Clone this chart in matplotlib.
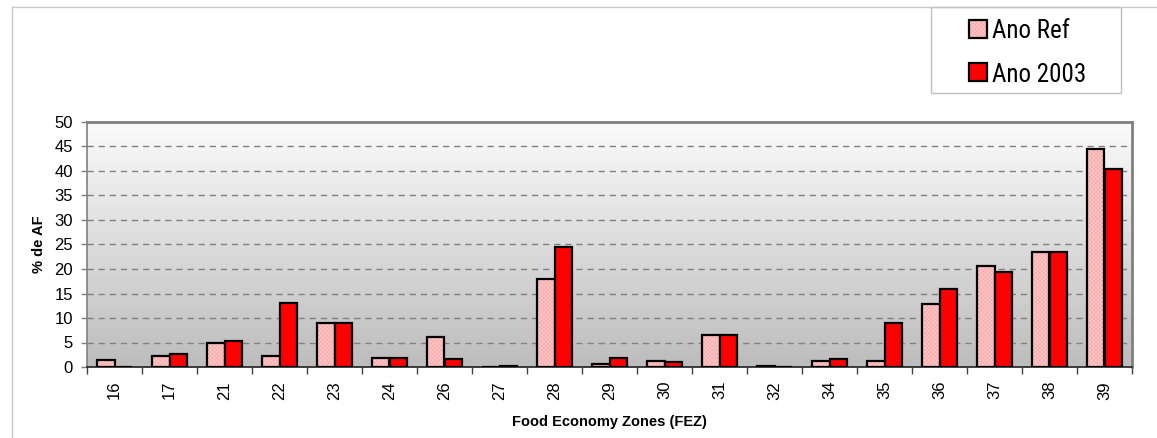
import numpy as np
import matplotlib
matplotlib.use("Agg")
import matplotlib.pyplot as plt
from matplotlib import font_manager
from matplotlib.lines import Line2D
from matplotlib.patches import Rectangle
from matplotlib.ticker import FixedLocator, NullFormatter

plt.rcParams['font.family'] = ['Liberation Sans', 'DejaVu Sans']
plt.rcParams['hatch.linewidth'] = 0.4

zones = ['16', '17', '21', '22', '23', '24', '26', '27', '28', '29',
         '30', '31', '32', '34', '35', '36', '37', '38', '39']
ano_ref = [1.4, 2.3, 4.8, 2.2, 9.0, 1.8, 6.1, 0.0, 18.0, 0.6,
           1.2, 6.5, 0.3, 1.2, 1.3, 12.9, 20.6, 23.4, 44.5]
ano_2003 = [0.0, 2.7, 5.4, 13.1, 9.0, 1.8, 1.6, 0.3, 24.4, 1.8,
            1.0, 6.5, 0.0, 1.6, 9.0, 15.9, 19.3, 23.4, 40.4]
series_names = ['Ano Ref', 'Ano 2003']
y_ticks = [0, 5, 10, 15, 20, 25, 30, 35, 40, 45, 50]

REF_FACE = '#ffc4c4'
REF_HATCH = '#f2a9a9'
NEW_FACE = '#ff0000'


def pick_narrow_font():
    """Return (family, size) for the legend, preferring a condensed face."""
    for fam in ['Liberation Sans Narrow', 'Arial Narrow', 'Roboto Condensed',
                'Open Sans Condensed']:
        try:
            font_manager.findfont(fam, fallback_to_default=False)
            return fam, 18
        except ValueError:
            continue
    return 'Liberation Sans', 16


W, H = 1157, 438
fig = plt.figure(figsize=(W / 100, H / 100), dpi=100)


def fx(px):
    return px / W


def fy(py):
    return 1 - py / H


# chart-area frame (top and left edges only)
fig.add_artist(Line2D([fx(12), fx(12)], [0, fy(7)], transform=fig.transFigure,
                      color='#c8c8c8', lw=1.0))
fig.add_artist(Line2D([fx(12), 1], [fy(7), fy(7)], transform=fig.transFigure,
                      color='#c8c8c8', lw=1.0))

ax = fig.add_axes([fx(87), fy(367), 1045 / W, 245 / H])

n = len(zones)
x = np.arange(n)
xmin, xmax = -0.5, n - 0.5
ymax = 50

# vertical grey gradient backdrop
grad = np.linspace(0, 1, 256).reshape(-1, 1)
top_c = np.array([0.985, 0.985, 0.985])
bot_c = np.array([0.74, 0.74, 0.74])
img = top_c[None, None, :] * (1 - grad[:, :, None]) + bot_c[None, None, :] * grad[:, :, None]
ax.imshow(img, extent=[xmin, xmax, 0, ymax], aspect='auto', origin='upper',
          zorder=0, interpolation='bilinear')

for yv in y_ticks[1:-1]:
    ax.axhline(yv, color='#808080', lw=1.0, linestyle=(0, (4.5, 3.5)), zorder=1)

bw = 0.31
ref_bars = ax.bar(x - bw / 2, ano_ref, width=bw, color=REF_FACE, edgecolor='black',
                  hatch='xxxxxxxx', linewidth=1.6, zorder=3, label=series_names[0])
new_bars = ax.bar(x + bw / 2, ano_2003, width=bw, color=NEW_FACE, edgecolor='black',
                  linewidth=1.6, zorder=3, label=series_names[1])
for p in ref_bars:
    p._hatch_color = matplotlib.colors.to_rgba(REF_HATCH)

ax.set_xlim(xmin, xmax)
ax.set_ylim(0, ymax)

ax.xaxis.set_major_locator(FixedLocator(np.arange(n + 1) - 0.5))
ax.xaxis.set_major_formatter(NullFormatter())
ax.set_xticks(x, labels=zones, minor=True, rotation=90)
ax.tick_params(axis='x', which='major', length=5, width=1.0, color='#404040', direction='out')
ax.tick_params(axis='x', which='minor', length=0, pad=10, labelsize=12)

ax.set_yticks(y_ticks)
ax.tick_params(axis='y', length=4, width=1.0, color='#808080', pad=6, labelsize=12)

for side in ['top', 'right']:
    ax.spines[side].set_color('#808080')
    ax.spines[side].set_linewidth(2.0)
ax.spines['left'].set_color('#808080')
ax.spines['left'].set_linewidth(1.2)
ax.spines['bottom'].set_color('#202020')
ax.spines['bottom'].set_linewidth(1.2)

ax.set_ylabel('% de AF', fontsize=10.5, fontweight='bold')
ax.yaxis.set_label_coords((46 - 87) / 1045, 0.5)
ax.set_xlabel('Food Economy Zones (FEZ)', fontsize=10.5, fontweight='bold')
ax.xaxis.set_label_coords(0.5, (367 - 415) / 245)

# legend box with swatches and labels
fig.add_artist(Rectangle((fx(931), fy(93)), 190 / W, 86 / H, transform=fig.transFigure,
                         facecolor='white', edgecolor='#c0c0c0', lw=1.0))
leg_family, leg_size = pick_narrow_font()
for (yc, name, face, hatched) in [(29, series_names[0], REF_FACE, True),
                                  (72, series_names[1], NEW_FACE, False)]:
    sw = Rectangle((fx(969), fy(yc + 9)), 18 / W, 18 / H, transform=fig.transFigure,
                   facecolor=face, edgecolor='black', lw=1.6,
                   hatch='xxxxxxxx' if hatched else None)
    if hatched:
        sw._hatch_color = matplotlib.colors.to_rgba(REF_HATCH)
    fig.add_artist(sw)
    fig.text(fx(992), fy(yc), name, ha='left', va='center_baseline',
             family=[leg_family, 'Liberation Sans'], fontsize=leg_size)

fig.savefig('out.png', dpi=100)
